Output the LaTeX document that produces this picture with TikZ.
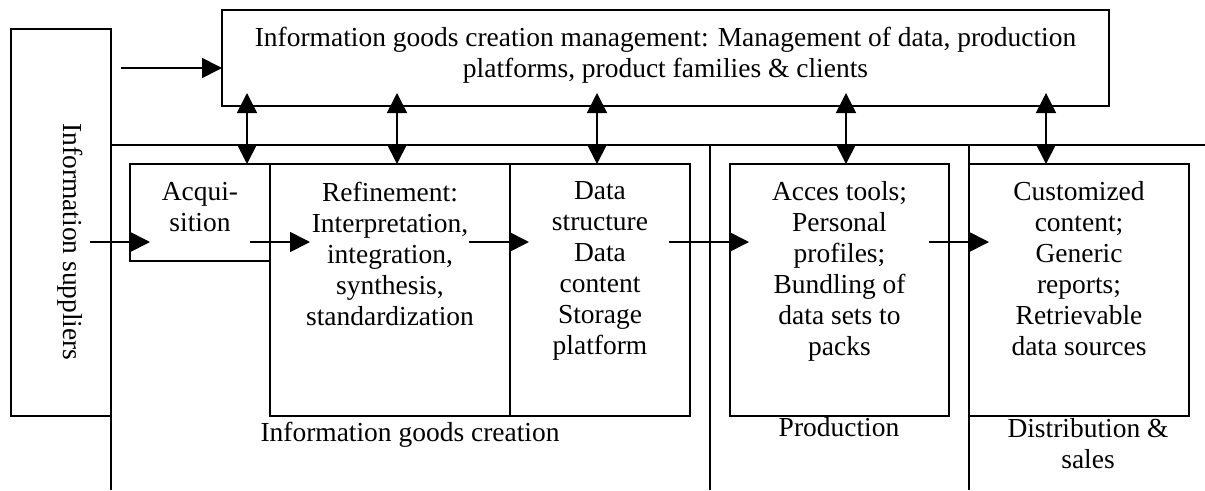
\documentclass[tikz,border=0pt]{standalone}
\usepackage{fontspec}
\setmainfont{Liberation Serif}
\usetikzlibrary{arrows.meta, fit, calc}

\tikzset{
  blk/.style={draw, inner sep=0pt, outer sep=0pt},
  txt/.style={align=center, inner sep=0pt, font=\fontsize{20.6pt}{23.25pt}\selectfont},
}

\begin{document}
\begin{tikzpicture}[x=0.75pt, y=-0.75pt, line width=1.3pt, >={Triangle[length=15pt, width=15pt]}]  % 坐标按像素, y 向下
  \useasboundingbox (0,0) rectangle (1205,490);

  % 方框: fit 按左上角和右下角定位
  \node[blk, fit={(11,29) (111,416)}] (sup) {};
  \node[blk, fit={(222,10) (1109,106)}] (mgmt) {};
  \node[blk, fit={(130,164) (270,261)}] (acq) {};
  \node[blk, fit={(270,164) (510,416)}] (ref) {};
  \node[blk, fit={(510,164) (690,416)}] (dat) {};
  \node[blk, fit={(730,164) (949,416)}] (acs) {};
  \node[blk, fit={(969,164) (1189,416)}] (cus) {};

  % 阶段分隔线
  \draw (111,145) -- (1205,145);
  \foreach \x in {111,710,969}
    \draw (\x,145) -- (\x,490);

  % 方框里的文字, anchor=north 放在方框上边下面一点
  \node[txt, anchor=north] (mgmttxt) at ([yshift=-12pt]mgmt.north) {Information goods creation management: Management of data, production\\platforms, product families \& clients};
  \node[txt, rotate=-90] (suptxt) at (70,242) {Information suppliers};
  \node[txt, anchor=north] (acqtxt) at ([yshift=-12.75pt]acq.north) {Acqui-\\sition};
  \node[txt, anchor=north] (reftxt) at ([yshift=-12.75pt]ref.north) {Refinement:\\Interpretation,\\integration,\\synthesis,\\standardization};
  \node[txt, anchor=north] (dattxt) at ([yshift=-12.75pt]dat.north) {Data\\structure\\Data\\content\\Storage\\platform};
  \node[txt, anchor=north] (acstxt) at ([yshift=-12.75pt]acs.north) {Acces tools;\\Personal\\profiles;\\Bundling of\\data sets to\\packs};
  \node[txt, anchor=north] (custxt) at ([yshift=-12.75pt]cus.north) {Customized\\content;\\Generic\\reports;\\Retrievable\\data sources};

  % 阶段名称 (base 是最后一行的基线)
  \node[txt, anchor=base] (lblcre) at (410,441) {Information goods creation};
  \node[txt, anchor=base] (lblpro) at (839,436) {Production};
  \node[txt, anchor=base] (lbldis) at (1088,468) {Distribution \&\\sales};

  % 箭头
  \coordinate (feed) at (121,68);
  \draw[->] (feed) -- (feed -| mgmt.west);
  \coordinate (flow) at (0,242);
  \foreach \a/\b/\s/\e in {sup/acq/21/20, acq/ref/20/40, ref/dat/41/19, dat/acs/21/19, acs/cus/20/20}
    \draw[->] ($(\a.east |- flow)+(-\s,0)$) -- ($(\b.west |- flow)+(\e,0)$);
  \foreach \x/\b in {247/acq, 397/ref, 597/dat, 846/acs, 1046/cus}
    \draw[<->] ($(\x,0 |- mgmt.south)+(0,-13)$) -- (\x,0 |- \b.north);
\end{tikzpicture}
\end{document}
